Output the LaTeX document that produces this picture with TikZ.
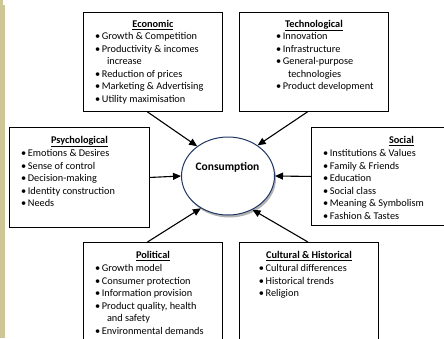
\documentclass[tikz,border=0pt]{standalone}
\usepackage{fontspec}
\setmainfont{Carlito}
\usepackage{tikz}
\usetikzlibrary{shapes.geometric, arrows.meta, positioning, calc, shadows}
\definecolor{sidebar}{RGB}{205,199,151}
\definecolor{ringblue}{RGB}{31,56,100}
\newcommand{\bul}{\makebox[6.7pt][l]{•}}
\newcommand{\cont}{\hspace*{11.8pt}}

\begin{document}
\begin{tikzpicture}[x=1pt, y=-1pt,
  factorbox/.style={draw=black, line width=0.9pt, anchor=north west, inner sep=0},
  factortitle/.style={font=\fontsize{10.3}{12.5}\selectfont\bfseries, anchor=base, inner sep=0},
  itemlist/.style={font=\fontsize{10.3}{12.5}\selectfont, align=left, anchor=north west, inner sep=0},
  push/.style={-{Triangle[length=8pt,width=7pt]}, line width=1.1pt}]
  \useasboundingbox (0,0) rectangle (444,338);
  \clip (0,0) rectangle (444,338);
  \fill[sidebar] (0,0) rectangle (3,5);
  \fill[sidebar] (0,5) rectangle (5,338);
  % factor boxes
  \node[factorbox, minimum width=139pt, minimum height=99pt] (econ) at (83,12) {};
  \node[factorbox, minimum width=149pt, minimum height=99pt] (tech) at (239,12) {};
  \node[factorbox, minimum width=140pt, minimum height=100pt] (psych) at (9,127) {};
  \node[factorbox, minimum width=180pt, minimum height=98pt] (social) at (311,127) {};
  \node[factorbox, minimum width=139pt, minimum height=108pt] (pol) at (83,242) {};
  \node[factorbox, minimum width=139pt, minimum height=108pt] (cult) at (239,242) {};
  % titles
  \node[factortitle] (econtitle) at ([yshift=-15.5pt]econ.north) {\underline{Economic}};
  \node[factortitle] (techtitle) at ([yshift=-15.5pt]tech.north) {\underline{Technological}};
  \node[factortitle] (psychtitle) at ([yshift=-16.5pt]psych.north) {\underline{Psychological}};
  \node[factortitle] (socialtitle) at ([yshift=-16.5pt]social.north) {\underline{Social}};
  \node[factortitle] (poltitle) at ([yshift=-16.5pt]pol.north) {\underline{Political}};
  \node[factortitle] (culttitle) at ([yshift=-16.5pt]cult.north) {\underline{Cultural \& Historical}};
  % item lists
  \node[itemlist] (econlist) at ([shift={(12,18.75)}]econ.north west)
    {\strut\bul Growth \& Competition\\ \bul Productivity \& incomes\\ \cont increase\\
     \bul Reduction of prices\\ \bul Marketing \& Advertising\\ \bul Utility maximisation};
  \node[itemlist] (techlist) at ([shift={(37,18.75)}]tech.north west)
    {\strut\bul Innovation\\ \bul Infrastructure\\ \bul General-purpose\\ \cont technologies\\
     \bul Product development};
  \node[itemlist] (psychlist) at ([shift={(12,20.75)}]psych.north west)
    {\strut\bul Emotions \& Desires\\ \bul Sense of control\\ \bul Decision-making\\
     \bul Identity construction\\ \bul Needs};
  \node[itemlist] (sociallist) at ([shift={(12,20.75)}]social.north west)
    {\strut\bul Institutions \& Values\\ \bul Family \& Friends\\ \bul Education\\
     \bul Social class\\ \bul Meaning \& Symbolism\\ \bul Fashion \& Tastes};
  \node[itemlist] (pollist) at ([shift={(12,20.75)}]pol.north west)
    {\strut\bul Growth model\\ \bul Consumer protection\\ \bul Information provision\\
     \bul Product quality, health\\ \cont and safety\\ \bul Environmental demands};
  \node[itemlist] (cultlist) at ([shift={(19.7,20.75)}]cult.north west)
    {\strut\bul Cultural differences\\ \bul Historical trends\\ \bul Religion};
  % centre
  \node[ellipse, draw=ringblue, line width=1pt, fill=white, minimum width=93pt,
    minimum height=78pt, inner sep=0,
    drop shadow={shadow xshift=1.5pt, shadow yshift=-2.5pt, fill=black, opacity=0.3}]
    (cons) at (228,176) {};
  \node[font=\fontsize{11.5}{14}\selectfont\bfseries] (constext) at (227.5,167) {Consumption};
  % arrows
  \draw[push] ([xshift=-5.5pt]econ.south) -- (cons.136);
  \draw[push] ([xshift=-6.5pt]tech.south) -- (cons.46);
  \draw[push] (psych.east) -- (cons.west);
  \draw[push] (social.west) -- (cons.east);
  \draw[push] ([xshift=-5.5pt]pol.north) -- (cons.230);
  \draw[push] ([xshift=-1pt]cult.north) -- (cons.306);
\end{tikzpicture}
\end{document}
